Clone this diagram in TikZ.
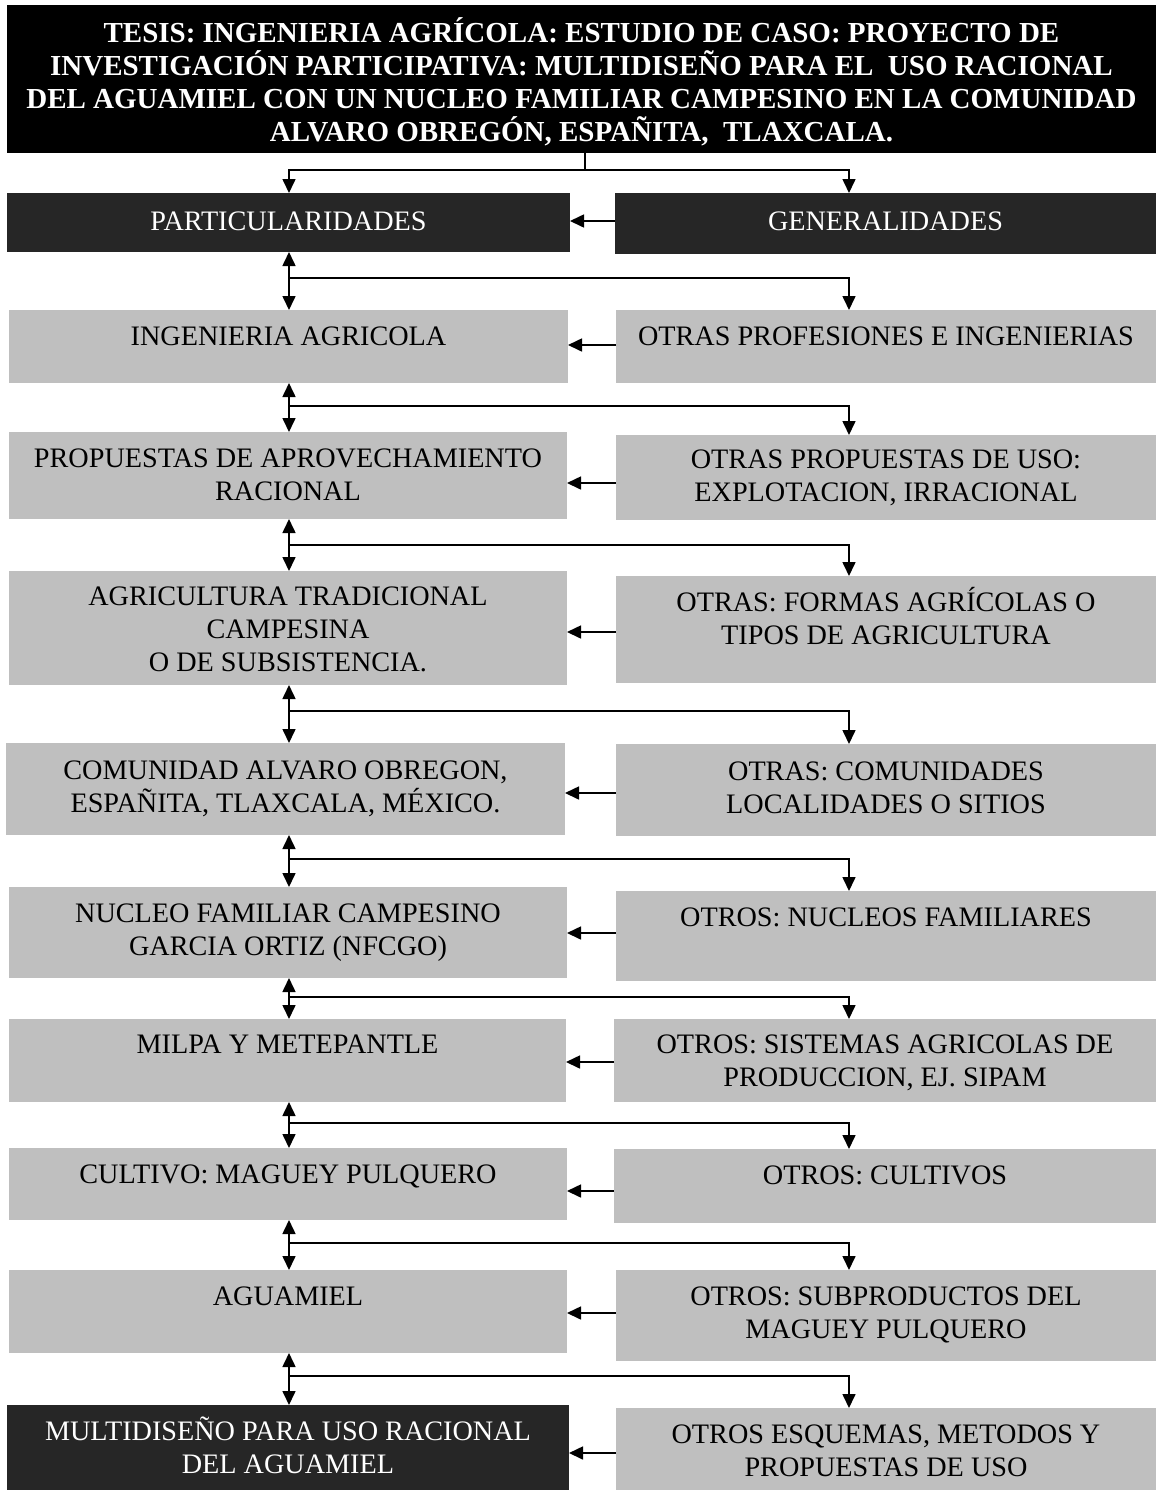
\documentclass[tikz,border=0pt]{standalone}
\usepackage{fontspec}
\setmainfont{Liberation Serif}
\usetikzlibrary{arrows.meta,calc}
\definecolor{boxgray}{HTML}{BFBFBF}
\definecolor{boxdark}{HTML}{262626}
\newcommand\mkbox[6]{\node[#1, minimum width={(#4-#3)*0.5pt}, minimum height={(#6-#5)*0.5pt}] (#2) at (#3,#5) {};}
\begin{document}
\begin{tikzpicture}[x=0.5pt,y=-0.5pt,
  box/.style={draw=none, inner sep=0pt, outer sep=0pt, anchor=north west},
  gbox/.style={box, fill=boxgray},
  dbox/.style={box, fill=boxdark},
  tbox/.style={box, fill=black},
  lbl/.style={font=\fontsize{14.1pt}{16.5pt}\selectfont, align=center, anchor=base, inner sep=0pt},
  wlbl/.style={lbl, text=white},
  tlbl/.style={lbl, text=white, font=\bfseries\fontsize{14.5pt}{16.5pt}\selectfont},
  plain/.style={line width=0.8pt},
  conn/.style={plain, -{Triangle[length=7pt,width=6.5pt]}},
  dconn/.style={plain, {Triangle[length=7pt,width=6.5pt]}-{Triangle[length=7pt,width=6.5pt]}}]
\useasboundingbox (0,0) rectangle (1156,1490);
% boxes
\mkbox{tbox}{title}{7}{1156}{5}{153}
\mkbox{dbox}{part}{7}{570}{193}{252}
\mkbox{dbox}{gen}{615}{1156}{193}{254}
\mkbox{gbox}{ing}{9}{568}{310}{383}
\mkbox{gbox}{oprof}{616}{1156}{310}{383}
\mkbox{gbox}{prop}{9}{567}{432}{519}
\mkbox{gbox}{oprop}{616}{1156}{435}{520}
\mkbox{gbox}{agri}{9}{567}{571}{685}
\mkbox{gbox}{oagri}{616}{1156}{576}{683}
\mkbox{gbox}{com}{6}{565}{743}{835}
\mkbox{gbox}{ocom}{616}{1156}{744}{836}
\mkbox{gbox}{nuc}{9}{567}{887}{978}
\mkbox{gbox}{onuc}{616}{1156}{891}{981}
\mkbox{gbox}{milpa}{9}{566}{1019}{1102}
\mkbox{gbox}{omilpa}{614}{1156}{1019}{1102}
\mkbox{gbox}{cult}{9}{567}{1148}{1220}
\mkbox{gbox}{ocult}{614}{1156}{1149}{1223}
\mkbox{gbox}{agua}{9}{567}{1270}{1353}
\mkbox{gbox}{oagua}{616}{1156}{1270}{1361}
\mkbox{dbox}{multi}{7}{569}{1405}{1490}
\mkbox{gbox}{omulti}{616}{1156}{1408}{1490}
% labels (anchor=base is the baseline of the last line)
\node[tlbl] (ttitle) at ($(title.north)+(0,136)$) {TESIS: INGENIERIA AGRÍCOLA: ESTUDIO DE CASO: PROYECTO DE\\INVESTIGACIÓN PARTICIPATIVA: MULTIDISEÑO PARA EL\ \ USO RACIONAL\\DEL AGUAMIEL CON UN NUCLEO FAMILIAR CAMPESINO EN LA COMUNIDAD\\ALVARO OBREGÓN, ESPAÑITA,\ \ TLAXCALA.};
\node[wlbl] (tpart) at ($(part.north)+(0,37)$) {PARTICULARIDADES};
\node[wlbl] (tgen) at ($(gen.north)+(0,37)$) {GENERALIDADES};
\node[lbl] (ting) at ($(ing.north)+(0,35)$) {INGENIERIA AGRICOLA};
\node[lbl] (toprof) at ($(oprof.north)+(0,35)$) {OTRAS PROFESIONES E INGENIERIAS};
\node[lbl] (tprop) at ($(prop.north)+(0,68)$) {PROPUESTAS DE APROVECHAMIENTO\\RACIONAL};
\node[lbl] (toprop) at ($(oprop.north)+(0,66)$) {OTRAS PROPUESTAS DE USO:\\EXPLOTACION, IRRACIONAL};
\node[lbl] (tagri) at ($(agri.north)+(0,100)$) {AGRICULTURA TRADICIONAL\\CAMPESINA\\O DE SUBSISTENCIA.};
\node[lbl] (toagri) at ($(oagri.north)+(0,68)$) {OTRAS: FORMAS AGRÍCOLAS O\\TIPOS DE AGRICULTURA};
\node[lbl] (tcom) at ($(com.north)+(0,69)$) {COMUNIDAD ALVARO OBREGON,\\ESPAÑITA, TLAXCALA, MÉXICO.};
\node[lbl] (tocom) at ($(ocom.north)+(0,69)$) {OTRAS: COMUNIDADES\\LOCALIDADES O SITIOS};
\node[lbl] (tnuc) at ($(nuc.north)+(0,68)$) {NUCLEO FAMILIAR CAMPESINO\\GARCIA ORTIZ (NFCGO)};
\node[lbl] (tonuc) at ($(onuc.north)+(0,35)$) {OTROS: NUCLEOS FAMILIARES};
\node[lbl] (tmilpa) at ($(milpa.north)+(0,34)$) {MILPA Y METEPANTLE};
\node[lbl] (tomilpa) at ($(omilpa.north)+(0,67)$) {OTROS: SISTEMAS AGRICOLAS DE\\PRODUCCION, EJ. SIPAM};
\node[lbl] (tcult) at ($(cult.north)+(0,35)$) {CULTIVO: MAGUEY PULQUERO};
\node[lbl] (tocult) at ($(ocult.north)+(0,35)$) {OTROS: CULTIVOS};
\node[lbl] (tagua) at ($(agua.north)+(0,35)$) {AGUAMIEL};
\node[lbl] (toagua) at ($(oagua.north)+(0,68)$) {OTROS: SUBPRODUCTOS DEL\\MAGUEY PULQUERO};
\node[wlbl] (tmulti) at ($(multi.north)+(0,68)$) {MULTIDISEÑO PARA USO RACIONAL\\DEL AGUAMIEL};
\node[lbl] (tomulti) at ($(omulti.north)+(0,68)$) {OTROS ESQUEMAS, METODOS Y\\PROPUESTAS DE USO};
% columns
\coordinate (cx) at (289,0);
\coordinate (rx) at (849,0);
% title connector
\coordinate (j0) at (585,170);
\draw[plain] (title.south -| j0) -- (j0);
\draw[conn] (j0) -| (part.north -| cx);
\draw[conn] (j0) -| (gen.north -| rx);
% vertical double arrows and branches
\draw[dconn] (part.south -| cx) -- (ing.north -| cx);
\coordinate (j1) at (289,278);
\draw[conn] (j1) -| (oprof.north -| rx);
\draw[dconn] (ing.south -| cx) -- (prop.north -| cx);
\coordinate (j2) at (289,406);
\draw[conn] (j2) -| (oprop.north -| rx);
\draw[dconn] (prop.south -| cx) -- (agri.north -| cx);
\coordinate (j3) at (289,545);
\draw[conn] (j3) -| (oagri.north -| rx);
\draw[dconn] (agri.south -| cx) -- (com.north -| cx);
\coordinate (j4) at (289,711);
\draw[conn] (j4) -| (ocom.north -| rx);
\draw[dconn] (com.south -| cx) -- (nuc.north -| cx);
\coordinate (j5) at (289,859);
\draw[conn] (j5) -| (onuc.north -| rx);
\draw[dconn] (nuc.south -| cx) -- (milpa.north -| cx);
\coordinate (j6) at (289,997);
\draw[conn] (j6) -| (omilpa.north -| rx);
\draw[dconn] (milpa.south -| cx) -- (cult.north -| cx);
\coordinate (j7) at (289,1123);
\draw[conn] (j7) -| (ocult.north -| rx);
\draw[dconn] (cult.south -| cx) -- (agua.north -| cx);
\coordinate (j8) at (289,1243);
\draw[conn] (j8) -| (oagua.north -| rx);
\draw[dconn] (agua.south -| cx) -- (multi.north -| cx);
\coordinate (j9) at (289,1376);
\draw[conn] (j9) -| (omulti.north -| rx);
% left arrows
\draw[conn] (gen.west |- 0,221) -- (part.east |- 0,221);
\draw[conn] (oprof.west |- 0,345) -- (ing.east |- 0,345);
\draw[conn] (oprop.west |- 0,483) -- (prop.east |- 0,483);
\draw[conn] (oagri.west |- 0,632) -- (agri.east |- 0,632);
\draw[conn] (ocom.west |- 0,793) -- (com.east |- 0,793);
\draw[conn] (onuc.west |- 0,933) -- (nuc.east |- 0,933);
\draw[conn] (omilpa.west |- 0,1062) -- (milpa.east |- 0,1062);
\draw[conn] (ocult.west |- 0,1191) -- (cult.east |- 0,1191);
\draw[conn] (oagua.west |- 0,1313) -- (agua.east |- 0,1313);
\draw[conn] (omulti.west |- 0,1453) -- (multi.east |- 0,1453);
\end{tikzpicture}
\end{document}
